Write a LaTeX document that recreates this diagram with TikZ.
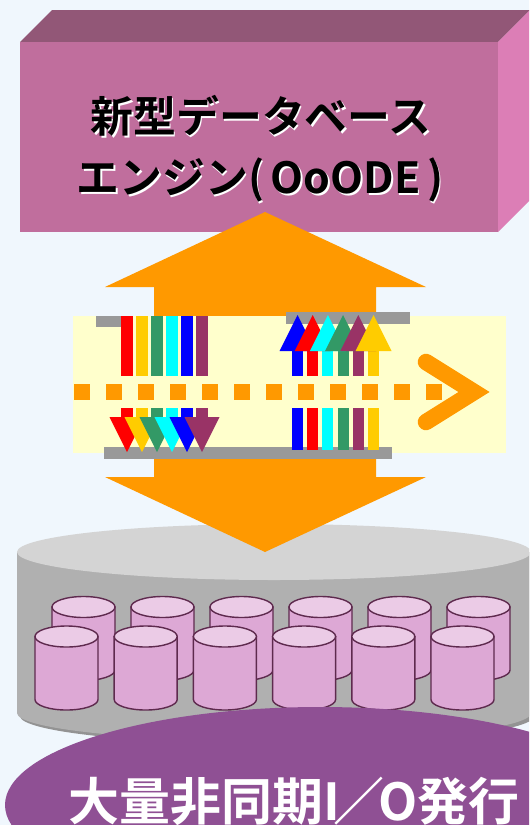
\documentclass[tikz,border=0pt]{standalone}
\usepackage{fontspec}
\newfontfamily\jpbold{Noto Sans CJK JP Bold}

\definecolor{bgblue}{HTML}{F0F7FD}
\definecolor{boxtop}{HTML}{925777}
\definecolor{boxfront}{HTML}{C06E9D}
\definecolor{boxside}{HTML}{DC7EB6}
\definecolor{ioorange}{HTML}{FF9900}
\definecolor{bandyellow}{HTML}{FFFFCC}
\definecolor{bargray}{HTML}{999999}
\definecolor{disktop}{HTML}{D4D4D4}
\definecolor{diskside}{HTML}{B0B0B0}
\definecolor{diskshadow}{HTML}{939393}
\definecolor{cylpink}{HTML}{DDA8D5}
\definecolor{cyllight}{HTML}{EBCBE6}
\definecolor{cylline}{HTML}{5E2A4E}
\definecolor{iopurple}{HTML}{8F5094}
\definecolor{cred}{HTML}{FF0000}
\definecolor{cyellow}{HTML}{FFCC00}
\definecolor{cgreen}{HTML}{339966}
\definecolor{ccyan}{HTML}{00FFFF}
\definecolor{cblue}{HTML}{0000FF}
\definecolor{cmaroon}{HTML}{993366}

\tikzset{
  cylbody/.style={fill=cylpink, draw=cylline, line width=0.8pt},
  cyltop/.style={fill=cyllight, draw=cylline, line width=0.8pt},
  bigarrow/.style={fill=ioorange},
  graybar/.style={fill=bargray},
  titlefont/.style={font=\jpbold\fontsize{24.4}{30}\selectfont},
}

% one small disk drawn from its top-left corner
\newcommand{\dbcyl}[2]{%
  \filldraw[cylbody] (#1,#2) -- (#1,#2+63)
    arc[start angle=180, end angle=0, x radius=31.5, y radius=10.5]
    -- (#1+63,#2) -- cycle;
  \filldraw[cyltop] (#1+31.5,#2) ellipse[x radius=31.5, y radius=10.5];
}

\begin{document}
\begin{tikzpicture}[x=0.02cm, y=-0.02cm]
  % page
  \fill[bgblue] (0,0) rectangle (529,825);
  \useasboundingbox (0,0) rectangle (529,825);
  \clip (0,0) rectangle (529,825);

  % engine block
  \fill[boxtop] (20,42) -- (52,10) -- (530,10) -- (498,42) -- cycle;
  \fill[boxside] (498,42) -- (530,10) -- (530,200) -- (498,232) -- cycle;
  \fill[boxfront] (20,42) rectangle (498,232);

  % storage disk
  \fill[diskshadow] (20,552) -- (20,716) arc[start angle=180, end angle=0, x radius=257, y radius=28] -- (534,552) -- cycle;
  \fill[diskside] (17,552) -- (17,713) arc[start angle=180, end angle=0, x radius=257, y radius=28] -- (531,552) -- cycle;
  \fill[disktop] (274,552) ellipse[x radius=257, y radius=28];

  % up and down arrows
  \fill[bigarrow] (154,330) -- (154,287) -- (105,287) -- (265,212) -- (426,287) -- (376,287) -- (376,330) -- cycle;
  \fill[bigarrow] (154,440) -- (154,477) -- (105,477) -- (265,552) -- (426,477) -- (376,477) -- (376,440) -- cycle;

  % queue band
  \fill[bandyellow] (73,316) rectangle (506,453);
  \fill[graybar] (96,316) rectangle (130,327);
  \fill[graybar] (286,312) rectangle (410,324);
  \fill[graybar] (104,447) rectangle (392,459);

  \foreach \i in {0,...,11}
    \fill[ioorange] (74+32*\i,384) rectangle ++(16,16);
  \draw[ioorange, line width=0.33cm, line cap=round] (426,362) -- (474,392) -- (426,422);

  % requests going down
  \foreach \c [count=\i from 0] in {cred,cyellow,cgreen,ccyan,cblue,cmaroon} {
    \fill[\c] (121+15*\i,316) rectangle ++(12,60);
    \fill[\c] (121+15*\i,408) rectangle ++(12,10);
  }
  \foreach \c [count=\i from 0] in {cred,cyellow,cgreen,ccyan,cblue,cmaroon}
    \fill[\c] (109.5+15*\i,417) -- (144.5+15*\i,417) -- (127+15*\i,452) -- cycle;

  % requests going up
  \foreach \c [count=\i from 0] in {cblue,cred,ccyan,cgreen,cmaroon,cyellow} {
    \fill[\c] (292+15.2*\i,350) rectangle ++(11,26);
    \fill[\c] (292+15.2*\i,408) rectangle ++(11,42);
  }
  \foreach \c [count=\i from 0] in {cblue,cred,ccyan,cgreen,cmaroon,cyellow}
    \fill[\c] (279.5+15.2*\i,351) -- (315.5+15.2*\i,351) -- (297.5+15.2*\i,315) -- cycle;

  % disks, back row then front row
  \foreach \i in {0,...,5} {\dbcyl{52+79*\i}{607}}
  \foreach \i in {0,...,5} {\dbcyl{35+79.2*\i}{636.5}}

  % I/O label
  \fill[iopurple] (320,805) ellipse[x radius=315, y radius=98];

  % titles
  \node[white, titlefont] at (262.5,117.5) {新型データベース};
  \node (engine1) [titlefont] at (261,116) {新型データベース};
  \node[white, titlefont] at (261.5,181.5) {エンジン(\hspace{0.15em}OoODE\hspace{0.15em})};
  \node (engine2) [titlefont] at (260,180) {エンジン(\hspace{0.15em}OoODE\hspace{0.15em})};
  \node (iolabel) [white, anchor=base west, inner sep=0pt, font=\jpbold\fontsize{29}{34}\selectfont]
    at (68,820) {大量非同期I\kern-0.12em／\kern-0.12em O発行};
\end{tikzpicture}
\end{document}
